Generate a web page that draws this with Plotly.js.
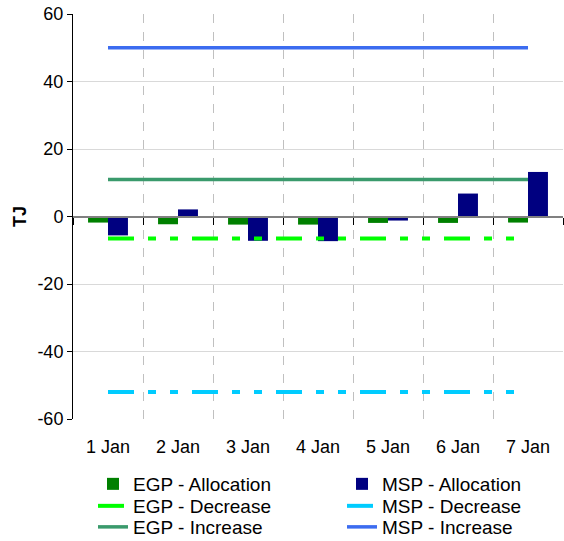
<!DOCTYPE html>
<html>
<head>
<meta charset="utf-8">
<script src="https://cdn.plot.ly/plotly-3.0.1.min.js"></script>
<style>html,body{margin:0;padding:0;background:#fff}#chart{width:564px;height:541px}</style>
</head>
<body>
<div id="chart"></div>
<script>
const days = ["1 Jan", "2 Jan", "3 Jan", "4 Jan", "5 Jan", "6 Jan", "7 Jan"];
const egpAllocation = [-1.8, -2.3, -2.4, -2.4, -1.9, -1.9, -1.8];
const mspAllocation = [-5.6, 2.1, -7.2, -7.3, -1.2, 6.8, 13.2];
const egpDecrease = [-6.5, -6.5, -6.5, -6.5, -6.5, -6.5, -6.5];
const mspDecrease = [-52, -52, -52, -52, -52, -52, -52];
const egpIncrease = [11, 11, 11, 11, 11, 11, 11];
const mspIncrease = [50, 50, 50, 50, 50, 50, 50];
const yTicks = [-60, -40, -20, 0, 20, 40, 60];

const FONT = "Liberation Sans, Arial, sans-serif";
const dashPat = "26px,14px,8px,14px,8px,14px";

const traces = [
  {type: "bar", name: "EGP - Allocation", x: days, y: egpAllocation, marker: {color: "#008000"}, legend: "legend"},
  {type: "bar", name: "MSP - Allocation", x: days, y: mspAllocation, marker: {color: "#000080"}, legend: "legend2"},
  {type: "scatter", mode: "lines", name: "EGP - Decrease", x: days, y: egpDecrease, xaxis: "x2",
   line: {color: "#00ff00", width: 4, dash: dashPat}, legend: "legend3"},
  {type: "scatter", mode: "lines", name: "MSP - Decrease", x: days, y: mspDecrease, xaxis: "x2",
   line: {color: "#00ccff", width: 4, dash: dashPat}, legend: "legend4"},
  {type: "scatter", mode: "lines", name: "EGP - Increase", x: days, y: egpIncrease, xaxis: "x2",
   line: {color: "#3a9a6c", width: 3.5}, legend: "legend5"},
  {type: "scatter", mode: "lines", name: "MSP - Increase", x: days, y: mspIncrease, xaxis: "x2",
   line: {color: "#3c6cf0", width: 3.5}, legend: "legend6"}
];

function leg(x, y) {
  return {x: x, xanchor: "left", y: y, yanchor: "middle", orientation: "v",
          font: {size: 19, family: FONT}, itemwidth: 30, bgcolor: "rgba(0,0,0,0)"};
}
const colL = 0.0408, colR = 0.549;
const row1 = -0.1605, row2 = -0.2148, row3 = -0.2667;

const layout = {
  width: 564, height: 541,
  margin: {l: 73, r: 1, t: 14, b: 122, autoexpand: false},
  paper_bgcolor: "#fff", plot_bgcolor: "#fff",
  font: {family: FONT, size: 18, color: "#000"},
  barmode: "group", bargap: 0.43, bargroupgap: 0,
  showlegend: true,
  xaxis: {
    type: "category", categoryarray: days, range: [-0.5, 6.5],
    tickson: "boundaries", ticks: "", showline: false,
    showgrid: true, gridcolor: "#c0c0c0", griddash: "dash", gridwidth: 1,
    ticklabelstandoff: 15, tickfont: {size: 18}, zeroline: false
  },
  xaxis2: {
    type: "category", categoryarray: days, range: [-0.5, 6.5],
    overlaying: "x", anchor: "free", position: 0.5,
    showline: true, linecolor: "#808080", linewidth: 2,
    ticks: "outside", tickson: "boundaries", ticklen: 7, tickcolor: "#000", tickwidth: 1,
    showticklabels: false, showgrid: false, zeroline: false
  },
  yaxis: {
    range: [-60, 60], tickmode: "array", tickvals: yTicks, ticktext: yTicks.map(String),
    showline: true, linecolor: "#000", linewidth: 1,
    ticks: "outside", ticklen: 5, tickcolor: "#000",
    showgrid: true, gridcolor: "#d9d9d9", gridwidth: 1, zeroline: false,
    tickfont: {size: 18},
    title: {text: "TJ", font: {size: 18, weight: "bold"}, standoff: 6}
  },
  legend: leg(colL, row1),
  legend2: leg(colR, row1),
  legend3: leg(colL, row2),
  legend4: leg(colR, row2),
  legend5: leg(colL, row3),
  legend6: leg(colR, row3)
};

Plotly.newPlot("chart", traces, layout, {displayModeBar: false, staticPlot: true});
</script>
</body>
</html>
